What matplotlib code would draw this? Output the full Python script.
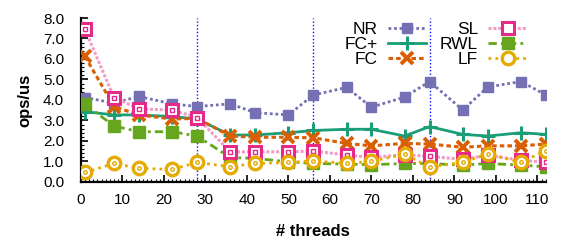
import matplotlib

matplotlib.use("Agg")
import matplotlib.pyplot as plt
from matplotlib.ticker import MultipleLocator

plt.rcParams["font.family"] = ["Liberation Sans", "DejaVu Sans"]

# ---------------------------------------------------------------------------
# Data
# ---------------------------------------------------------------------------

threads = [1, 8, 14, 22, 28, 36, 42, 50, 56, 64, 70, 78, 84, 92, 98, 106, 112]
nr = [4.12, 3.85, 4.17, 3.81, 3.68, 3.81, 3.38, 3.27, 4.24, 4.61, 3.65, 4.14,
      4.90, 3.51, 4.63, 4.90, 4.25]
fc_plus = [3.43, 3.27, 3.27, 3.19, 3.07, 2.29, 2.29, 2.40, 2.51, 2.57, 2.57,
           2.24, 2.70, 2.32, 2.24, 2.40, 2.32]
fc = [6.13, 3.68, 3.27, 3.07, 3.10, 2.24, 2.18, 2.18, 2.15, 1.88, 1.76, 1.88,
      1.85, 1.69, 1.76, 1.76, 1.85]
sl = [7.44, 4.12, 3.56, 3.51, 3.14, 1.47, 1.47, 1.47, 1.51, 1.31, 1.20, 1.32,
      1.25, 1.10, 1.30, 1.06, 0.96]
rwl = [3.79, 2.73, 2.45, 2.45, 2.24, 1.19, 1.15, 0.98, 0.90, 0.87, 0.84, 0.90,
       0.90, 0.82, 0.90, 0.82, 0.74]
lf = [0.46, 0.90, 0.66, 0.61, 0.95, 0.74, 0.90, 0.95, 1.03, 0.90, 1.00, 1.36,
      0.72, 0.96, 1.36, 0.96, 1.52]
socket_bounds = [28, 56, 84]

PURPLE = "#7570b3"
TEAL = "#1b9e77"
ORANGE = "#d95f02"
PINK = "#e7298a"
GREEN = "#66a61e"
YELLOW = "#e6ab02"


def main() -> None:
    fig = plt.figure(figsize=(5.65, 2.4), dpi=100)
    ax = fig.add_axes([0.143, 0.242, 0.823, 0.683])

    for xb in socket_bounds:
        ax.axvline(xb, color="#1010ff", ls=(0, (1, 1.5)), lw=1.0, zorder=1)

    ax.plot(threads, nr, color=PURPLE, ls=(0, (1, 1)), lw=2.0,
            marker="s", ms=7, mfc=PURPLE, mec=PURPLE, label="NR", zorder=3)
    ax.plot(threads, fc_plus, color=TEAL, ls="-", lw=2.0,
            marker="+", ms=10, mew=2.2, label="FC+", zorder=4)
    ax.plot(threads, fc, color=ORANGE, ls=(0, (1.5, 1)), lw=2.2,
            marker="x", ms=8, mew=2.8, label="FC", zorder=4)
    ax.plot(threads, sl, color="#f29cc8", ls=(0, (1, 0.6)), lw=2.2,
            marker="s", ms=9, mfc="white", mec=PINK, mew=2.2, label="SL",
            zorder=5)
    ax.plot(threads, sl, ls="none", marker="s", ms=3, mfc="none", mec=PINK,
            mew=1.0, zorder=5)
    ax.plot(threads, rwl, color=GREEN, ls=(0, (3, 1.5, 1, 1.5)), lw=2.0,
            marker="s", ms=8, mfc=GREEN, mec=GREEN, label="RWL", zorder=4)
    ax.plot(threads, lf, color=YELLOW, ls=(0, (1, 1.5)), lw=2.0,
            marker="o", ms=9, mfc="white", mec=YELLOW, mew=2.4, label="LF",
            zorder=6)
    ax.plot(threads, lf, ls="none", marker="o", ms=2.5, mfc="none",
            mec=YELLOW, mew=1.0, zorder=6)

    ax.set_xlim(0, 112)
    ax.set_ylim(0, 8)
    ax.xaxis.set_major_locator(MultipleLocator(10))
    ax.xaxis.set_minor_locator(MultipleLocator(1))
    ax.yaxis.set_major_locator(MultipleLocator(1))
    ax.yaxis.set_minor_locator(MultipleLocator(0.2))
    ax.yaxis.set_major_formatter(lambda v, _: f"{v:.1f}")

    for side in ("top", "right"):
        ax.spines[side].set_visible(False)
    for side in ("left", "bottom"):
        ax.spines[side].set_linewidth(1.6)

    ax.tick_params(axis="both", which="major", direction="in", length=5,
                   width=1.2, labelsize=11)
    ax.tick_params(axis="both", which="minor", direction="in", length=2.5,
                   width=0.8)
    ax.tick_params(axis="x", pad=8)
    ax.tick_params(axis="y", pad=12)

    ax.set_xlabel("# threads", fontsize=12, fontweight="bold", labelpad=12)
    ax.set_ylabel("ops/us", fontsize=12, fontweight="bold", labelpad=8)

    ax.legend(ncol=2, markerfirst=False, frameon=False, fontsize=12.5,
              loc="upper right", bbox_to_anchor=(0.985, 1.05),
              handlelength=2.2, handletextpad=0.6, columnspacing=0.8,
              labelspacing=0.0, borderpad=0.2)

    fig.savefig("out.png", dpi=100)
    plt.close(fig)


if __name__ == "__main__":
    main()
